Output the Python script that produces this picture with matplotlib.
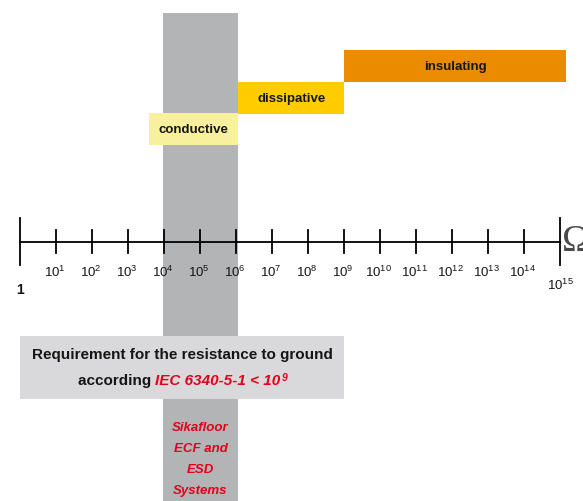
import matplotlib
matplotlib.use("Agg")
import matplotlib.pyplot as plt
from matplotlib import font_manager

names = {f.name for f in font_manager.fontManager.ttflist}
FONT = 'Liberation Sans' if 'Liberation Sans' in names else 'DejaVu Sans'
plt.rcParams['font.family'] = [FONT, 'DejaVu Sans']
plt.rcParams['mathtext.fontset'] = 'custom'
plt.rcParams['mathtext.rm'] = FONT + ':bold'
plt.rcParams['mathtext.it'] = FONT + ':italic:bold'
plt.rcParams['mathtext.bf'] = FONT + ':bold'

# ---- data ----
exponents = list(range(16))
classes = ['conductive', 'dissipative', 'insulating']
class_start = [3.57, 6.05, 9.0]
class_end = [6.05, 9.0, 15.15]
class_colors = ['#f8f09c', '#ffcc00', '#eb8c00']
esd_band = (3.95, 6.05)
requirement_range = (0.0, 9.0)
requirement_text = 'Requirement for the resistance to ground'
according_text = 'according '
standard_text = 'IEC 6340-5-1 < 10'
standard_exp = '9'
system_lines = ['Sikafloor', 'ECF and', 'ESD', 'Systems']
unit_symbol = '\u03a9'

TXT = '#151515'
RED = '#e2001a'

fig = plt.figure(figsize=(5.83, 5.02), dpi=100)
ax = fig.add_axes([0, 0, 1, 1])
ax.set_xlim(-0.569, 15.625)
ax.set_ylim(502, 0)
ax.axis('off')

# grey ESD band
ax.axvspan(esd_band[0], esd_band[1], ymin=0, ymax=1 - 14 / 502, color='#b3b4b6', zorder=1, lw=0)

# class bars
bar_y = [130, 99, 67]
for name, s, e, c, y in zip(classes, class_start, class_end, class_colors, bar_y):
    ax.barh(y, e - s, left=s, height=32, color=c, zorder=2, lw=0)
    ax.text((s + e) / 2, y, name, ha='center', va='center', fontsize=9.5,
            fontweight='bold', color=TXT, zorder=3)

# axis line
ax.plot([exponents[0], exponents[-1]], [243, 243], color='black', lw=1.3, zorder=4)
for ex in exponents:
    if ex in (exponents[0], exponents[-1]):
        ax.plot([ex, ex], [219, 266], color='black', lw=1.3, zorder=4)
    else:
        ax.plot([ex, ex], [231, 254], color='black', lw=1.3, zorder=4)
    if ex == 0:
        ax.text(ex, 290, '1', ha='center', va='center', fontsize=10,
                fontweight='bold', color=TXT)
    elif ex == exponents[-1]:
        ax.text(ex, 285, r'$\mathregular{10^{%d}}$' % ex, ha='center', va='center',
                fontsize=9.5, color=TXT)
    else:
        ax.text(ex - 0.05, 272, r'$\mathregular{10^{%d}}$' % ex, ha='center', va='center',
                fontsize=9.5, color=TXT)

ax.text(15.05, 242, unit_symbol, ha='left', va='center', fontsize=27,
        family='Liberation Serif', color='#4a4a4a', zorder=4)

# requirement box
r0, r1 = requirement_range
ax.barh(368, r1 - r0, left=r0, height=63, color='#d9d9db', zorder=5, lw=0)
mid = (r0 + r1) / 2
ax.text(mid, 355, requirement_text, ha='center', va='center', fontsize=11,
        fontweight='bold', color=TXT, zorder=6)
t1 = ax.text(mid, 385, according_text, ha='left', va='baseline', fontsize=11,
             fontweight='bold', color=TXT, zorder=6)
t2 = ax.annotate(standard_text, xy=(1, 0), xycoords=t1, ha='left', va='bottom',
                 fontsize=11, fontweight='bold', style='italic', color=RED, zorder=6)
t3 = ax.annotate(standard_exp, xy=(1, 1), xycoords=t2, xytext=(0.5, 1), textcoords='offset points',
                 ha='left', va='top', fontsize=7.5, fontweight='bold', style='italic',
                 color=RED, zorder=6)
fig.canvas.draw()
r = fig.canvas.get_renderer()
left = t1.get_window_extent(r).x0
right = t3.get_window_extent(r).x1
target_center = ax.transData.transform((mid, 0))[0]
shift_px = target_center - (left + right) / 2
new_x = ax.transData.inverted().transform(
    (ax.transData.transform((mid, 385))[0] + shift_px, 0))[0]
t1.set_x(new_x)

# red system text in the band
bx = (esd_band[0] + esd_band[1]) / 2
for i, line in enumerate(system_lines):
    ax.text(bx, 428 + i * 21, line, ha='center', va='center', fontsize=9.5,
            fontweight='bold', style='italic', color=RED, zorder=6)

fig.savefig('out.png', dpi=100)
